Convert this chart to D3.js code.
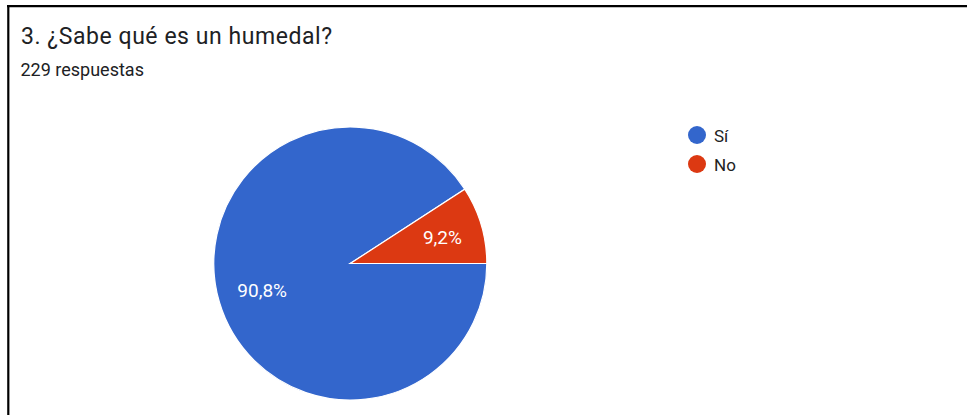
<!DOCTYPE html>
<html><head><meta charset="utf-8">
<script src="https://cdn.jsdelivr.net/npm/d3@7"></script>
<style>html,body{margin:0;padding:0;background:#fff;}svg{display:block;font-family:Roboto,Arial,sans-serif;}</style>
</head><body>
<svg id="c" width="967" height="415"></svg>
<script>
const titleText = "3. ¿Sabe qué es un humedal?";
const subtitleText = "229 respuestas";
const categories = ["Sí", "No"];
const counts = [208, 21];
const colors = ["#3366cc", "#dc3912"];

const svg = d3.select("#c");
svg.append("rect").attr("width",967).attr("height",415).attr("fill","#fff");
// frame
svg.append("line").attr("x1",7).attr("x2",967).attr("y1",6.2).attr("y2",6.2).attr("stroke","#000").attr("stroke-width",2.2);
svg.append("line").attr("x1",8.3).attr("x2",8.3).attr("y1",5).attr("y2",415).attr("stroke","#000").attr("stroke-width",2.2);

svg.append("text").attr("x",21).attr("y",43.5).attr("font-size",23).attr("letter-spacing",0.55).attr("fill","#202124").text(titleText);
svg.append("text").attr("x",20.5).attr("y",76).attr("font-size",18).attr("fill","#202124").text(subtitleText);

const total = d3.sum(counts);
const data = categories.map((c,i)=>({cat:c, v:counts[i], color:colors[i]}));
const pie = d3.pie().value(d=>d.v).sort(null).startAngle(Math.PI/2).endAngle(Math.PI/2 + 2*Math.PI);
const arcs = pie(data);
const R = 136.5;
const arc = d3.arc().innerRadius(0).outerRadius(R);
const labelArc = d3.arc().innerRadius(94).outerRadius(94);
const g = svg.append("g").attr("transform","translate(350.3,263.5)");
g.selectAll("path").data(arcs).join("path")
  .attr("d",arc).attr("fill",d=>d.data.color).attr("stroke","#fff").attr("stroke-width",1.2);
const fmt = v => (v/total*100).toFixed(1).replace(".", ",") + "%";
g.selectAll("text.lbl").data(arcs).join("text").attr("class","lbl")
  .attr("transform",d=>{const c=labelArc.centroid(d);return `translate(${c[0]+2},${c[1]+7})`;})
  .attr("text-anchor","middle").attr("font-size",19).attr("fill","#fff").text(d=>fmt(d.data.v));

const leg = svg.append("g");
const ly = d3.scalePoint().domain(categories).range([135,164]);
const li = leg.selectAll("g").data(data).join("g").attr("transform",d=>`translate(697,${ly(d.cat)})`);
li.append("circle").attr("r",9).attr("fill",d=>d.color);
li.append("text").attr("x",17).attr("y",7).attr("font-size",17).attr("fill","#222").text(d=>d.cat);
</script>
</body></html>
